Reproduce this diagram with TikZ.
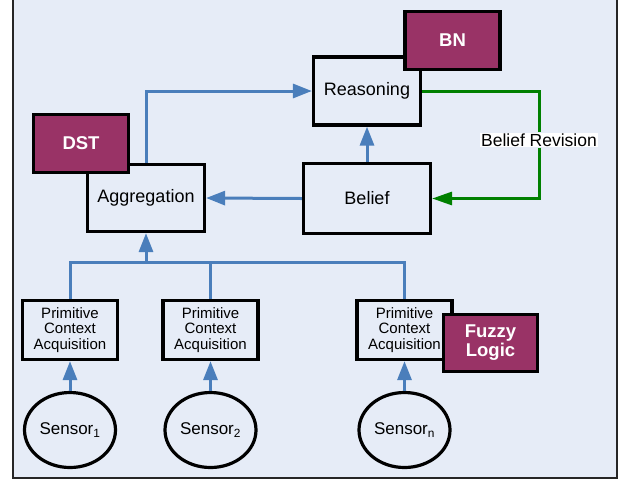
\documentclass[tikz,border=0pt]{standalone}
\usepackage{fontspec}
\setmainfont{Liberation Sans}
\usetikzlibrary{arrows.meta,shapes.geometric}
\definecolor{bgblue}{RGB}{230,236,247}
\definecolor{plum}{RGB}{153,51,102}
\definecolor{lineblue}{RGB}{74,126,187}
\definecolor{darkgreen}{RGB}{0,128,0}
\tikzset{
  box/.style={draw=black, line width=3.2pt, fill=bgblue, inner sep=0pt, align=center,
    font=\fontsize{18}{20}\selectfont},
  hibox/.style={draw=black, line width=3.2pt, fill=plum, text=white, inner sep=0pt, align=center,
    font=\fontsize{18.5}{19}\selectfont\bfseries},
  pcabox/.style={box, minimum width=95pt, minimum height=59pt,
    font=\fontsize{15}{15.4}\selectfont},
  sensor/.style={draw=black, line width=3.2pt, fill=bgblue, ellipse, inner sep=0pt,
    minimum width=91pt, minimum height=75pt, font=\fontsize{17}{19}\selectfont},
  bluearrow/.style={draw=lineblue, line width=3pt, -{Triangle[length=19pt,width=14pt]}},
  blueline/.style={draw=lineblue, line width=3pt},
  greenline/.style={draw=darkgreen, line width=3pt},
  greenarrow/.style={draw=darkgreen, line width=3pt, -{Triangle[length=20pt,width=13pt]}},
}
\begin{document}
\begin{tikzpicture}[x=1pt,y=-1pt]
\useasboundingbox (0,0) rectangle (628,483);
\fill[white] (0,0) rectangle (628,483);
\draw[fill=bgblue, draw=black!85, line width=1.6pt] (13,-4) rectangle (617,478);

% main boxes
\node[box, minimum width=107pt, minimum height=68pt] (reas) at (367,91) {Reasoning};
\node[hibox, minimum width=95pt, minimum height=58pt] (bn) at (452.5,40.5) {BN};
\node[box, minimum width=117pt, minimum height=67pt] (agg) at (146,198) {Aggregation};
\node[hibox, minimum width=95pt, minimum height=58pt] (dst) at (81,143.5) {DST};
\node[box, minimum width=127pt, minimum height=70pt] (bel) at (367,198.5) {Belief};

% primitive context acquisition
\node[pcabox] (p1) at (70,330) {Primitive\\Context\\Acquisition};
\node[pcabox] (p2) at (210.5,330) {Primitive\\Context\\Acquisition};
\node[pcabox] (p3) at (404.5,330) {Primitive\\Context\\Acquisition};
\node[hibox, minimum width=94pt, minimum height=57pt] (fz) at (490.5,343) {Fuzzy\\Logic};

% sensors
\node[sensor] (s1) at (70,430) {Sensor\textsubscript{1}};
\node[sensor] (s2) at (210.5,430) {Sensor\textsubscript{2}};
\node[sensor] (s3) at (404.5,430) {Sensor\textsubscript{n}};

% belief revision label
\node[fill=white, inner sep=1pt, font=\fontsize{17.5}{19}\selectfont] (brev) at (539,140) {Belief Revision};

% connectors
\draw[bluearrow] (agg.north) |- (reas.west);
\draw[bluearrow] (bel.north) -- (reas.south);
\draw[bluearrow] (bel.west) -- (agg.east);
\draw[greenline] (reas.east) -| (brev.north);
\draw[greenarrow] (brev.south) |- (bel.east);

\coordinate (bus) at (146,262);
\draw[blueline] (p1.north) |- (bus) -| (p3.north);
\draw[blueline] (p2.north) -- (p2.north |- bus);
\draw[bluearrow] (bus) -- (agg.south);

\draw[bluearrow] (s1.north) -- (p1.south);
\draw[bluearrow] (s2.north) -- (p2.south);
\draw[bluearrow] (s3.north) -- (p3.south);
\end{tikzpicture}
\end{document}
